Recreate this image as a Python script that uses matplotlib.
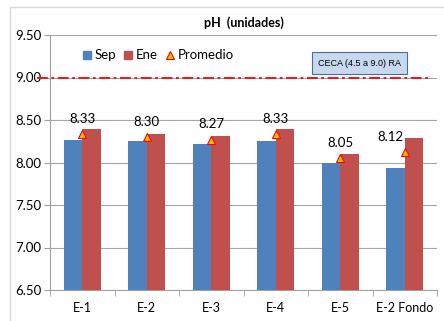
import matplotlib.pyplot as plt
import numpy as np
from matplotlib.patches import Rectangle
from matplotlib.lines import Line2D

plt.rcParams['font.family'] = ['Lato', 'DejaVu Sans']

# pH values per station
estaciones = ["E-1", "E-2", "E-3", "E-4", "E-5", "E-2 Fondo"]
sep = [8.26, 8.25, 8.22, 8.25, 7.99, 7.94]
ene = [8.40, 8.34, 8.31, 8.40, 8.10, 8.29]
promedio = [8.33, 8.30, 8.27, 8.33, 8.05, 8.12]
limite = 9.0

fig = plt.figure(figsize=(4.44, 3.21), dpi=100)
fig.patches.append(Rectangle((10 / 444, -0.1), 1.2, (321 - 7) / 321 + 0.1,
                             transform=fig.transFigure, fill=False,
                             edgecolor='#d9d9d9', linewidth=1))
ax = fig.add_axes([50 / 444, 31 / 321, 387 / 444, 255 / 321])

x = np.arange(len(estaciones))
w = 0.285
ax.bar(x - w / 2, sep, w, color='#4F81BD', zorder=3)
ax.bar(x + w / 2, ene, w, color='#C0504D', zorder=3)
ax.plot(x, promedio, linestyle='none', marker='^', markersize=6,
        markerfacecolor='#FFC000', markeredgecolor='#FF0000', markeredgewidth=0.8,
        zorder=4)

for i, v in enumerate(promedio):
    dx = -10 if i == len(promedio) - 1 else 0
    ax.annotate("{:.2f}".format(v), (x[i], v), xytext=(dx, 11),
                textcoords='offset points', ha='center', va='center', fontsize=9.5)

# CECA limit line, starts left of the axis
ax.plot([-0.7, 5.36], [limite, limite], color='#FF0000',
        linestyle=(0, (6, 2, 1.5, 2)), linewidth=1.3, clip_on=False, zorder=5)

ax.set_ylim(6.5, 9.5)
ax.set_xlim(-0.5, len(estaciones) - 0.5)
ax.set_yticks(np.arange(6.5, 9.51, 0.5))
ax.set_yticklabels(["{:.2f}".format(t) for t in np.arange(6.5, 9.51, 0.5)])
ax.set_xticks(x)
ax.set_xticklabels(estaciones)
ax.set_xticks(np.arange(-0.5, len(estaciones)), minor=True)
ax.tick_params(axis='x', which='major', length=0, pad=9, labelsize=9)
ax.tick_params(axis='x', which='minor', length=4, color='#a0a0a0')
ax.tick_params(axis='y', length=4, color='#a0a0a0', labelsize=9.5, pad=2)
ax.grid(axis='y', color='#a6a6a6', linewidth=0.8, zorder=0)
for s in ['top', 'right']:
    ax.spines[s].set_visible(False)
ax.spines['left'].set_color('#a0a0a0')
ax.spines['bottom'].set_color('#a0a0a0')

ax.set_title("pH  (unidades)", fontsize=9, fontweight='bold', pad=6)

handles = [
    Line2D([], [], linestyle='none', marker='s', markersize=6, color='#4F81BD'),
    Line2D([], [], linestyle='none', marker='s', markersize=6, color='#C0504D'),
    Line2D([], [], linestyle='none', marker='^', markersize=6, markerfacecolor='#FFC000',
           markeredgecolor='#FF0000', markeredgewidth=0.8),
]
ax.legend(handles, ['Sep', 'Ene', 'Promedio'], loc='center left',
          bbox_to_anchor=(0.085, 0.92), ncol=3, frameon=False, fontsize=9.5,
          handlelength=0.6, handletextpad=0.3, columnspacing=0.6, borderaxespad=0,
          borderpad=0)

ax.text(0.80, 0.89, "CECA (4.5 a 9.0) RA", transform=ax.transAxes, fontsize=6.5,
        family='Liberation Sans', ha='center', va='center',
        bbox=dict(boxstyle='square,pad=0.7', facecolor='#C6D9F1', edgecolor='#4F6D8F',
                  linewidth=0.8))

fig.savefig("out.png", dpi=100)
